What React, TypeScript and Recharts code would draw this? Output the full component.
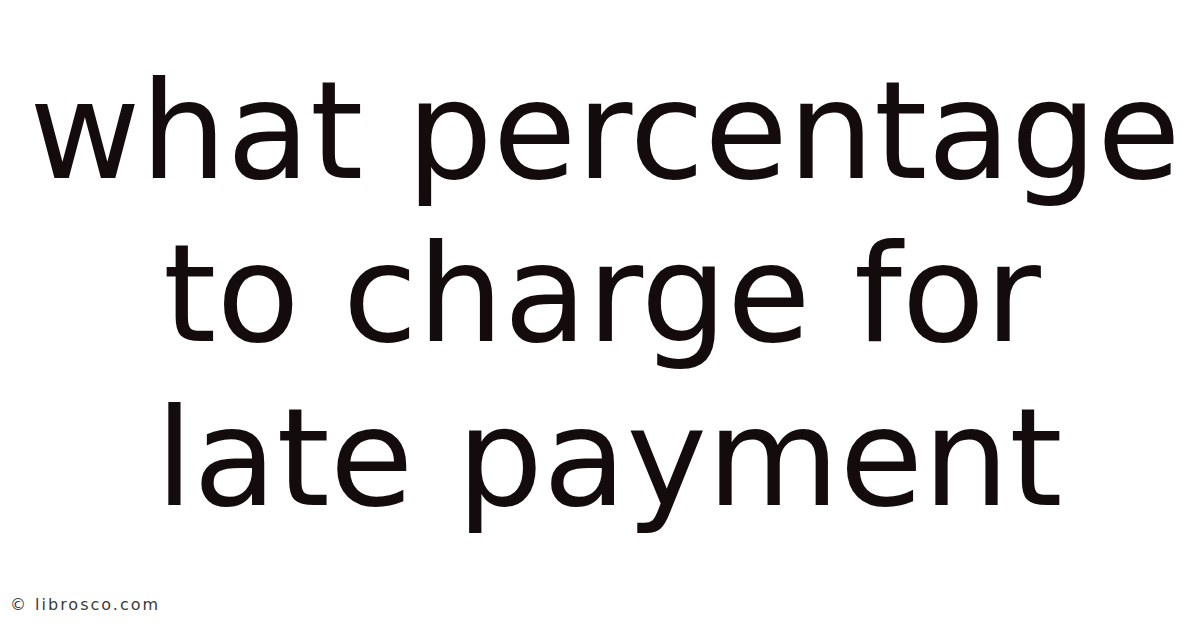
import React from "react";
import { Surface, Text } from "recharts";

const titleLines: string[] = ["what percentage", "to charge for", "late payment"];
const watermarkText: string[] = ["© librosco.com"];

const W = 1200;
const H = 628;
const lineCenters = [605, 602, 609];
const lineBaselines = [178, 341, 505];

export default function App() {
  return (
    <div style={{ position: "fixed", left: 0, top: 0, width: W, height: H, background: "#ffffff" }}>
      <Surface width={W} height={H}>
        {titleLines.map((line, i) => (
          <Text
            key={i}
            x={lineCenters[i]}
            y={lineBaselines[i]}
            textAnchor="middle"
            verticalAnchor="end"
            fontFamily="DejaVu Sans"
            fontSize={136}
            fill="#140c0c"
          >
            {line}
          </Text>
        ))}
        {watermarkText.map((t, i) => (
          <Text
            key={"w" + i}
            x={10}
            y={610}
            textAnchor="start"
            verticalAnchor="end"
            fontFamily="DejaVu Sans"
            fontSize={16}
            letterSpacing={2}
            fill="#3a3a3a"
          >
            {t}
          </Text>
        ))}
      </Surface>
    </div>
  );
}
